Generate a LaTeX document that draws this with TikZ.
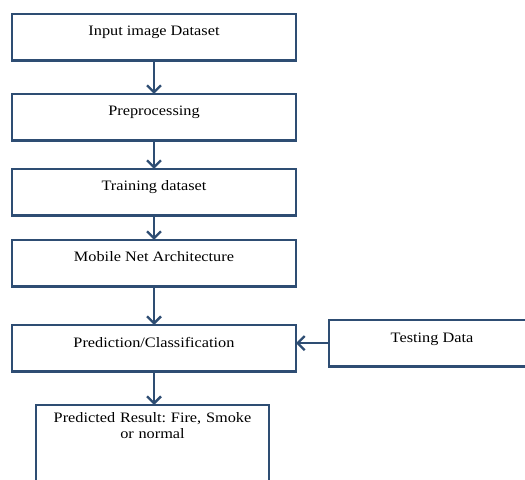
\documentclass[tikz,border=0pt]{standalone}
\usepackage{fontspec}
\setmainfont{Liberation Serif}[FakeStretch=1.13]
\usetikzlibrary{arrows.meta}
\definecolor{boxblue}{HTML}{2E4D73}
\frenchspacing
\tikzset{stepbox/.style={draw=boxblue, line width=2pt, inner sep=0pt, outer sep=0pt,
		minimum width=8.52cm, text height=0.66cm, text depth=0.73cm, anchor=base,
		font=\fontsize{12.3}{13.8}\selectfont},
	flowarrow/.style={draw=boxblue, line width=2pt, -{Straight Barb[length=6pt, width=12pt]}}}

\begin{document}
\begin{tikzpicture}[x=0.03cm, y=-0.03cm]
			\useasboundingbox (0,0) rectangle (525,480);
			\clip (0,0) rectangle (525,480);
			% boxes
			\node [stepbox] (input) at (154, 36) {Input image Dataset};
			\node [stepbox] (prep) at (154, 116) {Preprocessing};
			\node [stepbox] (train) at (154, 191) {Training dataset};
			\node [stepbox] (mobile) at (154, 262) {Mobile Net Architecture};
			\node [stepbox] (pred) at (154, 347) {Prediction/Classification};
			\node [stepbox, minimum width=6.18cm] (test) at (432, 342) {Testing Data};
			\node [stepbox, minimum width=6.99cm, text width=6.99cm, align=center,
				text height=0.51cm, text depth=3cm] (result) at (152.5, 422) {Predicted Result: Fire, Smoke\\ or normal};
			
			% arrows
			\draw [flowarrow] (input.south) -- (prep.north);
			\draw [flowarrow] (prep.south) -- (train.north);
			\draw [flowarrow] (train.south) -- (mobile.north);
			\draw [flowarrow] (mobile.south) -- (pred.north);
			\draw [flowarrow] (pred.south) -- (pred.south |- result.north);
			\draw [flowarrow] (test.west) -- (test.west -| pred.east);
		\end{tikzpicture}
\end{document}
